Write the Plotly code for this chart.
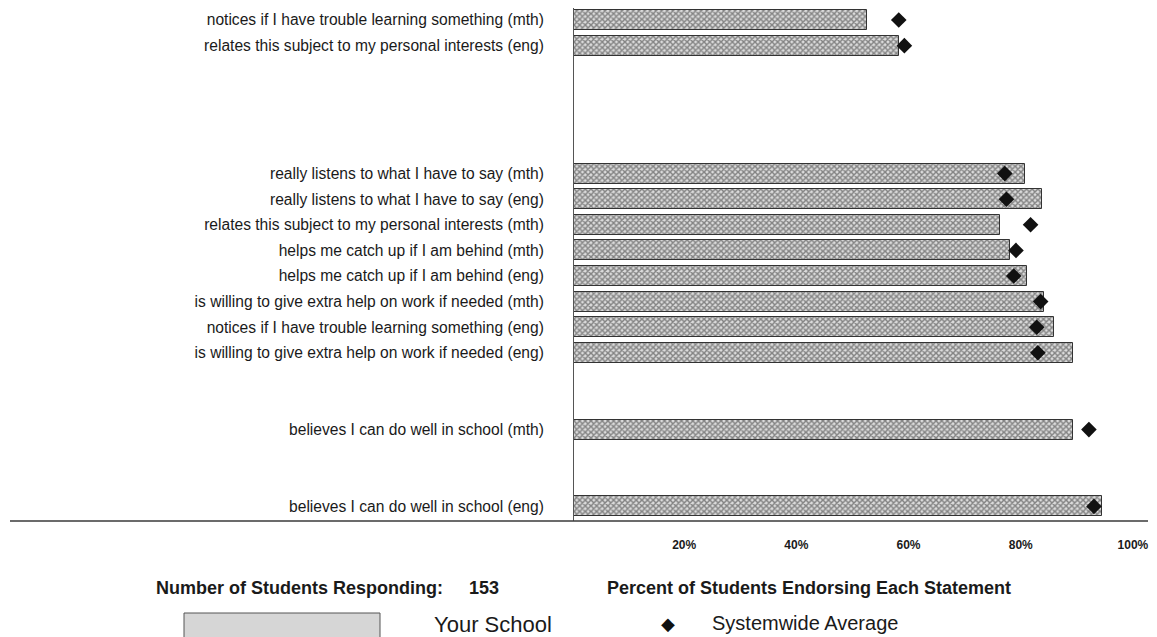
import plotly.graph_objects as go

# ---------------- data ----------------
statements = [
    "notices if I have trouble learning something (mth)",
    "relates this subject to my personal interests (eng)",
    "really listens to what I have to say (mth)",
    "really listens to what I have to say (eng)",
    "relates this subject to my personal interests (mth)",
    "helps me catch up if I am behind (mth)",
    "helps me catch up if I am behind (eng)",
    "is willing to give extra help on work if needed (mth)",
    "notices if I have trouble learning something (eng)",
    "is willing to give extra help on work if needed (eng)",
    "believes I can do well in school (mth)",
    "believes I can do well in school (eng)",
]
school_pct = [52.3, 57.9, 80.4, 83.4, 75.9, 77.7, 80.7, 83.8, 85.5, 88.9, 88.9, 94.1]
system_avg = [57.9, 58.9, 76.8, 77.1, 81.4, 78.8, 78.4, 83.2, 82.5, 82.7, 91.8, 92.7]
group_sizes = [2, 8, 1, 1]
x_ticks = [20, 40, 60, 80, 100]
x_tick_labels = ["20%", "40%", "60%", "80%", "100%"]
n_students = 153

# ---------------- layout helpers ----------------
OFF = 8                      # page body margin
W, H = 1157 - OFF, 637 - OFF
L, R, T, B = 574 - OFF, 1145 - OFF, 0, 521 - OFF
gaps = [0, 4, 2, 2]
ypos = []
cur = 0
for g, gap in zip(group_sizes, gaps):
    cur += gap
    for _ in range(g):
        ypos.append(cur)
        cur += 1


def px_x(p):  # page pixel -> paper x
    return (p - OFF - L) / (R - L)


def px_y(p):  # page pixel -> paper y
    return (B - (p - OFF)) / (B - T)


FONT = "Liberation Sans, Arial, Helvetica, sans-serif"
TXT = "#1a1a1a"

fig = go.Figure()
fig.add_trace(go.Bar(
    x=school_pct, y=ypos, orientation="h", width=0.78,
    name="Your School",
    marker=dict(
        color="#dcdcdc",
        line=dict(color="#333333", width=1),
        pattern=dict(shape="x", size=4, solidity=0.6, fgcolor="#2a2a2a"),
    ),
    showlegend=False,
))
fig.add_trace(go.Scatter(
    x=system_avg, y=ypos, mode="markers", name="Systemwide Average",
    marker=dict(symbol="diamond", size=12, color="#111111"),
    showlegend=False,
))

fig.update_layout(
    width=W, height=H,
    margin=dict(l=L, r=W - R, t=T, b=H - B, pad=0),
    paper_bgcolor="white", plot_bgcolor="white",
    font=dict(family=FONT, color=TXT),
    bargap=0,
)
fig.update_xaxes(
    range=[0, 101.8], showgrid=False, zeroline=False, showline=False,
    tickvals=x_ticks, ticktext=x_tick_labels, ticks="",
    tickfont=dict(family=FONT, size=12, color=TXT, weight="bold"),
    ticklabelstandoff=15, ticklabelshift=-2,
)
fig.update_yaxes(
    range=[19.57, -0.47], showgrid=False, zeroline=False,
    showline=True, linecolor="#555555", linewidth=1,
    tickvals=ypos, ticktext=statements, ticks="",
    tickfont=dict(family=FONT, size=15.6, color=TXT),
    ticklabelstandoff=26,
)

# long baseline extending left under the labels
fig.add_shape(type="line", xref="paper", yref="paper",
              x0=px_x(10), x1=px_x(1148), y0=0, y1=0,
              line=dict(color="#3a3a3a", width=1.5))

# footer texts
fig.add_annotation(text="<b>Number of Students Responding:</b>", xref="paper", yref="paper",
                   x=px_x(445), y=px_y(588), xanchor="right", yanchor="middle",
                   showarrow=False, font=dict(size=18, color=TXT))
fig.add_annotation(text=f"<b>{n_students}</b>", xref="paper", yref="paper",
                   x=px_x(484), y=px_y(588), xanchor="center", yanchor="middle",
                   showarrow=False, font=dict(size=18, color=TXT))
fig.add_annotation(text="<b>Percent of Students Endorsing Each Statement</b>", xref="paper", yref="paper",
                   x=px_x(605), y=px_y(588), xanchor="left", yanchor="middle",
                   showarrow=False, font=dict(size=18, color=TXT))

# legend
fig.add_shape(type="rect", xref="paper", yref="paper",
              x0=px_x(184), x1=px_x(380), y0=px_y(613), y1=px_y(640),
              fillcolor="#d6d6d6", line=dict(color="#555555", width=1))
fig.add_annotation(text="Your School", xref="paper", yref="paper",
                   x=px_x(432), y=px_y(624), xanchor="left", yanchor="middle",
                   showarrow=False, font=dict(size=22, color=TXT))
fig.add_annotation(text="◆", xref="paper", yref="paper",
                   x=px_x(668), y=px_y(624), xanchor="center", yanchor="middle",
                   showarrow=False, font=dict(size=18, color="#111111"))
fig.add_annotation(text="Systemwide Average", xref="paper", yref="paper",
                   x=px_x(710), y=px_y(623), xanchor="left", yanchor="middle",
                   showarrow=False, font=dict(size=20, color=TXT))

fig.write_html("out.html")
